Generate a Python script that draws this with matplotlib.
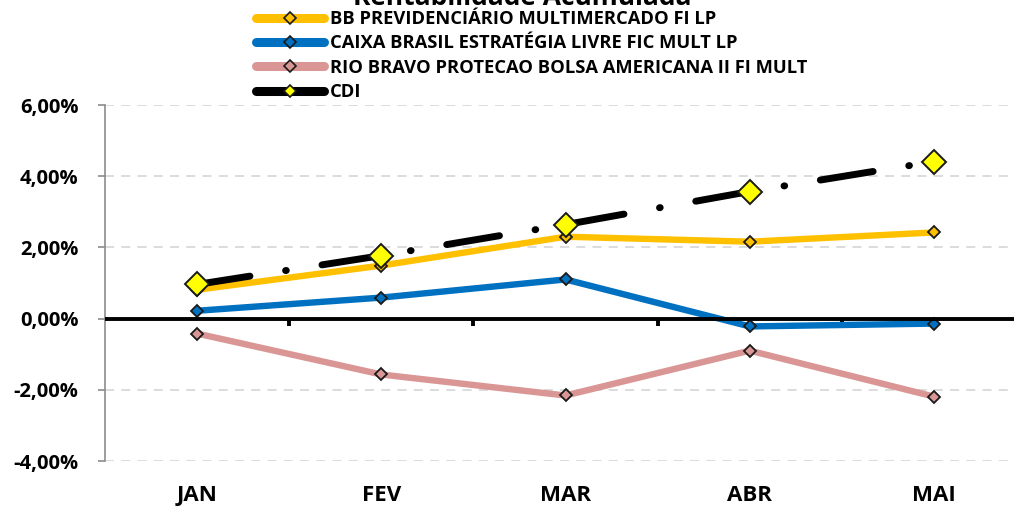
import matplotlib
matplotlib.use("Agg")
import matplotlib.pyplot as plt
from matplotlib.lines import Line2D
from matplotlib.ticker import FuncFormatter

plt.rcParams['font.family'] = ['Open Sans', 'DejaVu Sans']

months = ["JAN", "FEV", "MAR", "ABR", "MAI"]
series_names = ["BB PREVIDENCIÁRIO MULTIMERCADO FI LP",
                "CAIXA BRASIL ESTRATÉGIA LIVRE FIC MULT LP",
                "RIO BRAVO PROTECAO BOLSA AMERICANA II FI MULT",
                "CDI"]
bb = [0.81, 1.49, 2.30, 2.16, 2.42]
caixa = [0.22, 0.59, 1.10, -0.22, -0.14]
rio = [-0.42, -1.57, -2.16, -0.90, -2.19]
cdi = [0.96, 1.77, 2.64, 3.57, 4.41]
yticks = [-4, -2, 0, 2, 4, 6]

W, H = 1014, 507
fig = plt.figure(figsize=(W / 100, H / 100), dpi=100)
ax = fig.add_axes([105 / W, 1 - 461 / H, (1026 - 105) / W, (461 - 105) / H])

x = list(range(len(months)))
ax.set_xlim(-0.5, 4.5)
ax.set_ylim(-4, 6)

for v in yticks:
    if v != 0:
        ax.axhline(v, color='#d9d9d9', lw=1.3, ls=(0, (5, 4)), zorder=1)

mk = dict(marker='D', ms=6.5, mec='#1a1a1a', mew=1.3)
ax.plot(x, rio, color='#D99694', lw=4.6, mfc='#D99694', zorder=3, **mk)
ax.plot(x, caixa, color='#0070C0', lw=4.6, mfc='#0070C0', zorder=3, **mk)
ax.axhline(0, color='black', lw=2.8, zorder=3.5)
ax.plot(x, bb, color='#FFC000', lw=4.6, mfc='#FFC000', zorder=4, **mk)
ax.plot(x, cdi, color='black', lw=5.0, ls=(0, (7.7, 5.2, 0.1, 5.2)),
        dash_capstyle='round', solid_capstyle='round',
        marker='D', ms=12, mfc='#FFFF00', mec='#1a1a1a', mew=1.4, zorder=5)

for s in ['top', 'right', 'bottom']:
    ax.spines[s].set_visible(False)
ax.spines['left'].set_color('#8c8c8c')
ax.spines['left'].set_linewidth(1.2)

ax.set_yticks(yticks)
ax.yaxis.set_major_formatter(FuncFormatter(lambda v, p: f"{v:.2f}%".replace('.', ',')))
ax.tick_params(axis='y', length=5, width=1.2, color='#8c8c8c', pad=14,
               labelsize=14.5)
for lab in ax.get_yticklabels():
    lab.set_fontweight('bold')

ax.set_xticks(x)
ax.set_xticklabels(months, fontsize=16, fontweight='bold')
ax.tick_params(axis='x', length=0, pad=17)

sec = ax.secondary_xaxis(0.4)
sec.set_xticks([0.5, 1.5, 2.5, 3.5])
sec.set_xticklabels([])
sec.tick_params(axis='x', length=5, width=2.8, color='black', direction='out')
sec.spines['bottom'].set_visible(False)

lk = dict(lw=6.5, marker='D', ms=6, mec='#1a1a1a', mew=1.2, solid_capstyle='round')
handles = [
    Line2D([], [], color='#FFC000', mfc='#FFC000', **lk),
    Line2D([], [], color='#0070C0', mfc='#0070C0', **lk),
    Line2D([], [], color='#D99694', mfc='#D99694', **lk),
    Line2D([], [], color='black', mfc='#FFFF00', **lk),
]
leg = fig.legend(handles, series_names, loc='upper left',
                 bbox_to_anchor=(256 / W, 1 - 10 / H), frameon=False,
                 handlelength=3.7, handletextpad=0.35, labelspacing=0.35,
                 borderaxespad=0, borderpad=0,
                 prop={'weight': 'bold', 'size': 13.2})

fig.text(522 / W, 1 - 5 / H, "Rentabilidade Acumulada", ha='center', va='baseline',
         fontsize=19, fontweight='bold')

fig.savefig("out.png", dpi=100)
